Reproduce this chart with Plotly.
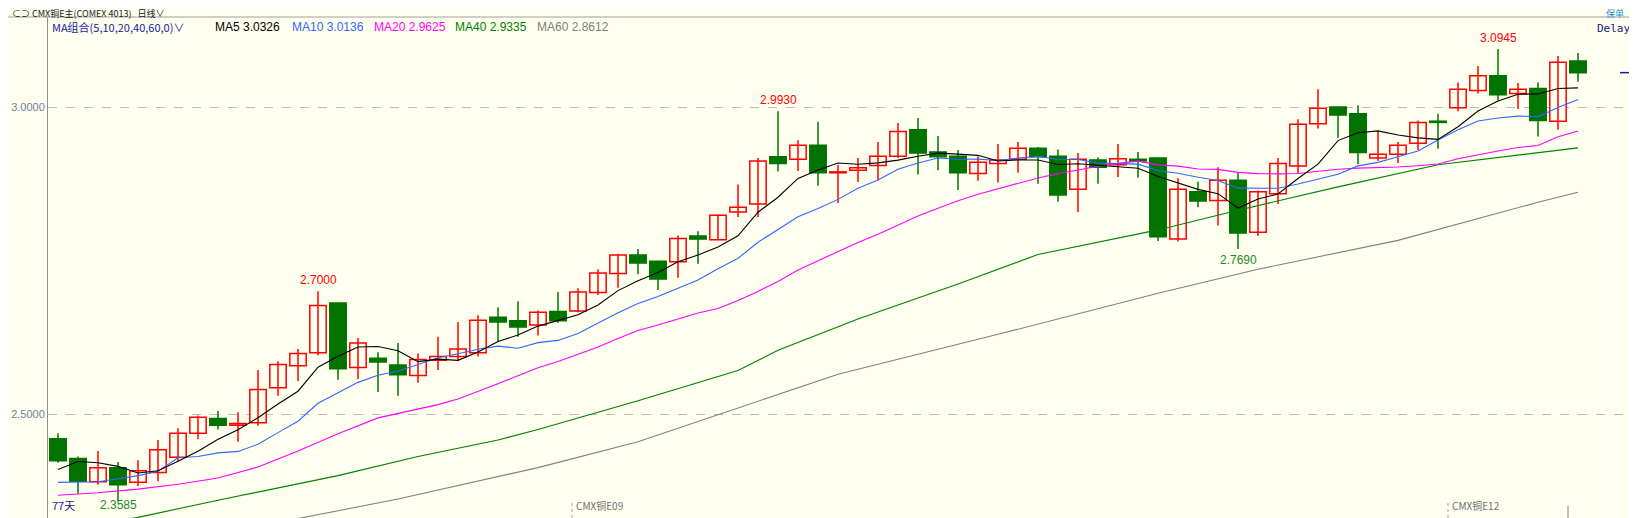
import plotly.graph_objects as go
import pandas as pd

# ---- data ----
opens = [2.460,2.428,2.390,2.413,2.389,2.405,2.430,2.469,2.493,2.482,
         2.486,2.543,2.579,2.600,2.681,2.576,2.591,2.580,2.563,2.588,
         2.594,2.600,2.658,2.652,2.645,2.667,2.668,2.698,2.729,2.759,
         2.749,2.748,2.790,2.784,2.829,2.842,2.919,2.915,2.938,2.893,
         2.897,2.905,2.920,2.963,2.927,2.920,2.892,2.908,2.915,2.933,
         2.920,2.866,2.914,2.906,2.915,2.917,2.785,2.862,2.848,2.881,
         2.796,2.859,2.904,2.973,3.000,2.989,2.917,2.923,2.941,2.977,
         2.999,3.027,3.051,3.022,3.030,2.977,3.075]
highs = [2.469,2.431,2.440,2.422,2.425,2.458,2.477,2.498,2.505,2.503,
         2.572,2.586,2.606,2.700,2.681,2.624,2.601,2.616,2.599,2.626,
         2.650,2.661,2.674,2.684,2.669,2.699,2.705,2.736,2.761,2.769,
         2.749,2.791,2.798,2.825,2.874,2.917,2.993,2.946,2.976,2.906,
         2.917,2.943,2.974,2.982,2.953,2.930,2.920,2.940,2.943,2.935,
         2.931,2.925,2.918,2.940,2.927,2.918,2.884,2.879,2.902,2.893,
         2.864,2.917,2.980,3.029,3.000,3.003,2.961,2.943,2.978,2.989,
         3.040,3.067,3.0945,3.039,3.040,3.083,3.088]
lows = [2.421,2.371,2.385,2.3585,2.383,2.391,2.424,2.459,2.475,2.455,
        2.481,2.530,2.554,2.596,2.556,2.557,2.536,2.530,2.551,2.572,
        2.588,2.594,2.618,2.626,2.628,2.649,2.666,2.694,2.706,2.728,
        2.702,2.722,2.745,2.783,2.821,2.821,2.895,2.896,2.872,2.844,
        2.878,2.881,2.917,2.890,2.897,2.865,2.880,2.877,2.893,2.875,
        2.846,2.829,2.875,2.886,2.885,2.782,2.781,2.837,2.807,2.769,
        2.790,2.842,2.892,2.965,2.950,2.907,2.912,2.909,2.930,2.932,
        2.993,3.022,3.011,2.997,2.952,2.963,3.041]
closes = [2.424,2.391,2.413,2.385,2.408,2.442,2.469,2.495,2.482,2.485,
          2.540,2.581,2.599,2.677,2.574,2.616,2.585,2.564,2.589,2.594,
          2.606,2.653,2.650,2.642,2.666,2.652,2.699,2.730,2.759,2.746,
          2.720,2.786,2.785,2.824,2.837,2.912,2.908,2.938,2.893,2.894,
          2.901,2.920,2.960,2.925,2.919,2.893,2.910,2.914,2.933,2.919,
          2.857,2.915,2.902,2.916,2.912,2.789,2.866,2.847,2.881,2.795,
          2.862,2.908,2.972,2.998,2.987,2.926,2.923,2.938,2.975,2.975,
          3.029,3.051,3.020,3.029,2.978,3.073,3.056]

# MA values before enough history is visible
ma5_head = [2.410, 2.423, 2.421, 2.415]
ma10_head = [2.389, 2.389, 2.390, 2.395, 2.400, 2.407, 2.429, 2.431, 2.437]
ma20_head = [2.368, None, 2.372, None, 2.378, None, 2.386, None, 2.396, None,
             2.414, None, 2.440, None, 2.468, None, 2.494, None, 2.509]
ma40_idx = [1, 5, 9, 15, 19, 23, 25, 30, 35, 37, 41, 46, 50, 56, 60, 65, 70, 75, 77]
ma40_val = [2.310, 2.332, 2.360, 2.400, 2.431, 2.458, 2.475, 2.522, 2.571, 2.604,
            2.655, 2.712, 2.760, 2.800, 2.832, 2.870, 2.906, 2.926, 2.9335]
ma60_idx = [1, 13, 18, 25, 30, 40, 48, 56, 61, 68, 75, 77]
ma60_val = [2.280, 2.330, 2.362, 2.413, 2.455, 2.565, 2.630, 2.697, 2.736, 2.783, 2.845, 2.8612]

labels_hi = [(14, "2.7000"), (37, "2.9930"), (73, "3.0945")]
label_lo = (60, "2.7690")
label_min = (4, "2.3585")

# ---- build ----
n = len(closes)
idx = list(range(1, n + 1))
cs = pd.Series(closes)

def ma(win, head):
    comp = cs.rolling(win).mean().tolist()
    return [head[i] if i < len(head) else round(comp[i], 4) for i in range(n)]

ma5 = ma(5, ma5_head)
ma10 = ma(10, ma10_head)
ma20 = ma(20, ma20_head)

BG = "#FFFFF0"
RED = "#FF0000"
GRN = "#007300"

fig = go.Figure()

for up in (True, False):
    wx, wy = [], []
    for i in range(n):
        if (closes[i] >= opens[i]) == up:
            wx += [idx[i], idx[i], None]
            wy += [lows[i], highs[i], None]
    fig.add_trace(go.Scatter(x=wx, y=wy, mode="lines",
                             line=dict(color=RED if up else GRN, width=1.5),
                             hoverinfo="skip", showlegend=False))
for up in (True, False):
    bx, bb, bh = [], [], []
    for i in range(n):
        if (closes[i] >= opens[i]) == up:
            bx.append(idx[i])
            bb.append(min(opens[i], closes[i]))
            bh.append(max(abs(closes[i] - opens[i]), 0.0015))
    fig.add_trace(go.Bar(x=bx, y=bh, base=bb, width=0.82,
                         marker=dict(color=BG if up else GRN,
                                     line=dict(color=RED if up else GRN, width=1.5)),
                         hoverinfo="skip", showlegend=False))

def line(xs, ys, color):
    fig.add_trace(go.Scatter(x=xs, y=ys, mode="lines", connectgaps=True,
                             line=dict(color=color, width=1.1),
                             hoverinfo="skip", showlegend=False))

line(ma60_idx, ma60_val, "#808080")
line(ma40_idx, ma40_val, "#008000")
line(idx, ma20, "#FF00FF")
line(idx, ma10, "#3366FF")
line(idx, ma5, "#000000")

# page body has an 8px margin: shrink the figure so the plot area lands at the reference spot
OFF = 8
W, H = 1637 - OFF, 518 - OFF
def px(x): return (x - 48) / (1637 - 48)
def py(y): return 1 - (y - 17) / (518 - 17)

anns = []
for i, t in labels_hi:
    anns.append(dict(x=i, y=highs[i - 1], text=t, showarrow=False, yanchor="bottom",
                     yshift=2, font=dict(color=RED, size=12, family="Liberation Sans")))
anns.append(dict(x=label_lo[0], y=lows[label_lo[0] - 1], text=label_lo[1], showarrow=False,
                 yanchor="top", yshift=-2, font=dict(color="#1E8A2A", size=12, family="Liberation Sans")))
anns.append(dict(x=label_min[0], y=py(505), yref="paper", text=label_min[1], showarrow=False,
                 yanchor="middle", font=dict(color="#1E8A2A", size=12, family="Liberation Sans")))

def ptxt(x, y, t, color, size=12, fam="Liberation Sans", anchor="left"):
    anns.append(dict(x=px(x), y=py(y), xref="paper", yref="paper", text=t, showarrow=False,
                     xanchor=anchor, yanchor="middle",
                     font=dict(color=color, size=size, family=fam)))

ptxt(10, 13, "⊂⊃ CMX铜E主(COMEX 4013)   日线∨", "#202020", 9, "Noto Sans CJK SC")
ptxt(50, 27, "MA组合(5,10,20,40,60,0)∨", "#1A1AA0", 11, "Noto Sans CJK SC")
ptxt(213, 27, "MA5 3.0326", "#000000")
ptxt(290, 27, "MA10 3.0136", "#3366FF")
ptxt(372, 27, "MA20 2.9625", "#FF00FF")
ptxt(453, 27, "MA40 2.9335", "#008000")
ptxt(535, 27, "MA60 2.8612", "#808080")
ptxt(1632, 28, "Delay", "#1A1A80", 11, "DejaVu Sans Mono", "right")
ptxt(1626, 13, "保单", "#2090E0", 9, "Noto Sans CJK SC", "right")
ptxt(50, 505, "77天", "#1A1AA0", 11, "Noto Sans CJK SC")
ptxt(574, 505, "CMX铜E09", "#707070", 10, "Noto Sans CJK SC")
ptxt(1450, 505, "CMX铜E12", "#707070", 10, "Noto Sans CJK SC")

shapes = [
    dict(type="line", xref="paper", yref="paper", x0=px(8), x1=1, y0=1, y1=1,
         line=dict(color="#A0A0A0", width=1)),
    dict(type="line", xref="x", yref="y", x0=79.1, x1=79.95, y0=closes[-1], y1=closes[-1],
         line=dict(color="#1A1AA0", width=1.5)),
    dict(type="line", xref="paper", yref="paper", x0=px(572), x1=px(572), y0=0, y1=py(500),
         line=dict(color="#A0A0A0", width=1, dash="dot")),
    dict(type="line", xref="paper", yref="paper", x0=px(1448), x1=px(1448), y0=0, y1=py(500),
         line=dict(color="#A0A0A0", width=1, dash="dot")),
    dict(type="line", xref="paper", yref="paper", x0=px(1568), x1=px(1568), y0=0, y1=py(506),
         line=dict(color="#808080", width=1)),
]

fig.update_layout(
    width=W, height=H, margin=dict(l=48 - OFF, r=0, t=17 - OFF, b=0),
    paper_bgcolor=BG, plot_bgcolor=BG, barmode="overlay",
    annotations=anns, shapes=shapes, showlegend=False,
    xaxis=dict(range=[0.5, 79.95], showticklabels=False, showgrid=False, zeroline=False,
               showline=False, fixedrange=True),
    yaxis=dict(range=[2.331, 3.1466], tickvals=[2.5, 3.0], ticktext=["2.5000", "3.0000"],
               showgrid=True, gridcolor="#BBBBBB", griddash="dash", gridwidth=1,
               zeroline=False, showline=True, linecolor="#909090", ticks="",
               tickfont=dict(color="#7080A0", size=11, family="Liberation Sans")),
)
fig.write_html("out.html")
